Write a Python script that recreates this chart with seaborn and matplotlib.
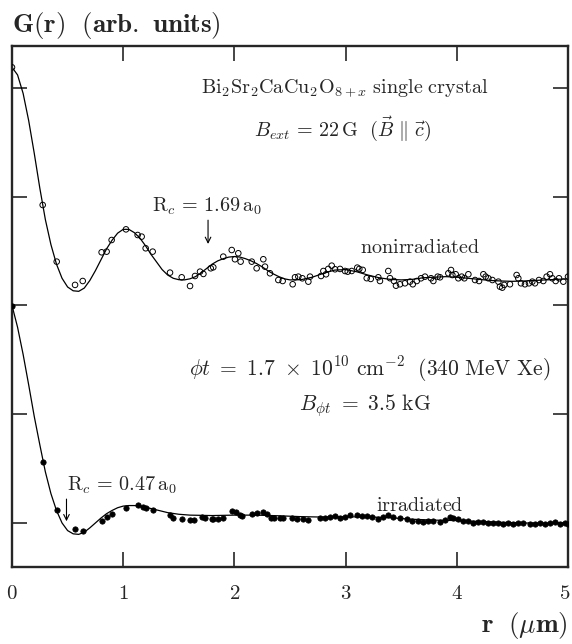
import numpy as np
import pandas as pd
import matplotlib
matplotlib.use("Agg")
import matplotlib.pyplot as plt
import seaborn as sns
from matplotlib.transforms import ScaledTranslation

sns.set_style("ticks")
plt.rcParams["mathtext.fontset"] = "cm"
plt.rcParams["font.family"] = ["DejaVu Serif"]

# nonirradiated : measured points (open circles)
r_non = [0.0, 0.276, 0.402, 0.567, 0.636, 0.806, 0.851, 0.896, 1.025, 1.130, 1.166, 1.202, 1.265,
         1.421, 1.526, 1.601, 1.646, 1.691, 1.721, 1.787, 1.810, 1.900, 1.976, 2.005, 2.035, 2.056,
         2.156, 2.200, 2.260, 2.275, 2.320, 2.395, 2.434, 2.524, 2.545, 2.575, 2.611, 2.665, 2.680,
         2.779, 2.800, 2.824, 2.844, 2.875, 2.905, 2.950, 2.995, 3.019, 3.055, 3.105, 3.123, 3.154,
         3.190, 3.226, 3.294, 3.309, 3.384, 3.399, 3.435, 3.453, 3.489, 3.534, 3.579, 3.604, 3.640,
         3.678, 3.714, 3.768, 3.789, 3.828, 3.849, 3.924, 3.948, 3.960, 3.990, 4.014, 4.044, 4.068,
         4.104, 4.164, 4.200, 4.239, 4.260, 4.284, 4.320, 4.374, 4.388, 4.409, 4.427, 4.478, 4.538,
         4.553, 4.577, 4.613, 4.649, 4.679, 4.703, 4.739, 4.778, 4.808, 4.838, 4.859, 4.889, 4.919,
         4.958, 5.0]
g_non = [4.19, 2.924, 2.403, 2.189, 2.225, 2.489, 2.495, 2.602, 2.700, 2.648, 2.633, 2.526, 2.495,
         2.302, 2.259, 2.179, 2.271, 2.311, 2.290, 2.342, 2.351, 2.449, 2.510, 2.425, 2.480, 2.403,
         2.403, 2.342, 2.425, 2.357, 2.296, 2.234, 2.225, 2.195, 2.259, 2.265, 2.250, 2.219, 2.265,
         2.271, 2.317, 2.287, 2.336, 2.366, 2.333, 2.336, 2.317, 2.311, 2.317, 2.348, 2.336, 2.327,
         2.251, 2.244, 2.259, 2.225, 2.317, 2.251, 2.225, 2.182, 2.195, 2.204, 2.219, 2.195, 2.225,
         2.250, 2.265, 2.250, 2.225, 2.265, 2.259, 2.296, 2.326, 2.280, 2.287, 2.250, 2.265, 2.250,
         2.287, 2.234, 2.225, 2.287, 2.265, 2.250, 2.234, 2.219, 2.173, 2.164, 2.189, 2.195, 2.280,
         2.250, 2.204, 2.195, 2.204, 2.219, 2.204, 2.234, 2.225, 2.265, 2.287, 2.250, 2.225, 2.250,
         2.219, 2.265]

# nonirradiated : fit curve
r_fit_non = [0.0, 0.05, 0.1, 0.15, 0.2, 0.25, 0.3, 0.35, 0.4, 0.45, 0.5, 0.55, 0.6, 0.65, 0.7, 0.75,
             0.8, 0.85, 0.9, 0.95, 1.0, 1.05, 1.1, 1.15, 1.2, 1.25, 1.3, 1.35, 1.4, 1.45, 1.5, 1.55,
             1.6, 1.65, 1.7, 1.75, 1.8, 1.85, 1.9, 1.95, 2.0, 2.05, 2.1, 2.15, 2.2, 2.25, 2.3, 2.35,
             2.4, 2.45, 2.5, 2.6, 2.7, 2.8, 2.9, 3.0, 3.1, 3.2, 3.3, 3.4, 3.5, 3.6, 3.7, 3.8, 3.9,
             4.0, 4.1, 4.2, 4.3, 4.4, 4.5, 4.6, 4.7, 4.8, 4.9, 5.0]
g_fit_non = [4.19, 4.12, 3.95, 3.70, 3.40, 3.08, 2.79, 2.56, 2.38, 2.25, 2.17, 2.135, 2.13, 2.16,
             2.23, 2.32, 2.42, 2.52, 2.60, 2.665, 2.70, 2.70, 2.67, 2.62, 2.55, 2.47, 2.40, 2.33,
             2.28, 2.25, 2.237, 2.235, 2.245, 2.265, 2.30, 2.34, 2.38, 2.41, 2.43, 2.445, 2.45,
             2.445, 2.43, 2.41, 2.385, 2.355, 2.32, 2.29, 2.265, 2.245, 2.235, 2.237, 2.26, 2.295,
             2.325, 2.33, 2.31, 2.28, 2.255, 2.24, 2.235, 2.24, 2.255, 2.26, 2.265, 2.26, 2.25,
             2.24, 2.23, 2.225, 2.222, 2.225, 2.23, 2.235, 2.24, 2.245]

# irradiated : measured points (filled dots)
r_irr = [0.0, 0.276, 0.402, 0.567, 0.636, 0.806, 0.851, 0.896, 1.025, 1.136, 1.175, 1.205, 1.271,
         1.421, 1.445, 1.526, 1.601, 1.637, 1.706, 1.736, 1.796, 1.810, 1.855, 1.900, 1.976, 2.011,
         2.050, 2.071, 2.156, 2.200, 2.260, 2.290, 2.329, 2.359, 2.410, 2.440, 2.515, 2.560, 2.620,
         2.665, 2.770, 2.815, 2.860, 2.905, 2.950, 2.995, 3.040, 3.100, 3.145, 3.190, 3.235, 3.294,
         3.339, 3.384, 3.429, 3.489, 3.550, 3.594, 3.654, 3.699, 3.744, 3.789, 3.849, 3.894, 3.939,
         3.969, 4.014, 4.059, 4.104, 4.149, 4.194, 4.239, 4.284, 4.329, 4.374, 4.418, 4.463, 4.508,
         4.553, 4.598, 4.658, 4.703, 4.748, 4.793, 4.838, 4.883, 4.928, 4.973, 5.0]
g_irr = [1.995, 0.558, 0.115, -0.054, -0.077, 0.020, 0.058, 0.085, 0.142, 0.162, 0.150, 0.138,
         0.120, 0.070, 0.046, 0.037, 0.028, 0.025, 0.058, 0.043, 0.037, 0.040, 0.037, 0.049, 0.107,
         0.098, 0.074, 0.067, 0.078, 0.089, 0.101, 0.080, 0.050, 0.049, 0.047, 0.050, 0.045, 0.040,
         0.037, 0.028, 0.043, 0.049, 0.058, 0.067, 0.049, 0.058, 0.074, 0.074, 0.067, 0.067, 0.058,
         0.037, 0.058, 0.074, 0.052, 0.043, 0.034, 0.021, 0.021, 0.012, 0.021, 0.021, 0.012, 0.028,
         0.058, 0.043, 0.034, 0.021, 0.021, 0.003, 0.012, 0.012, -0.003, 0.003, 0.003, -0.009,
         -0.003, -0.009, -0.003, 0.003, -0.009, -0.009, -0.003, -0.009, 0.003, 0.012, -0.009,
         0.003, -0.009]

# irradiated : fit curve
r_fit_irr = [0.0, 0.05, 0.1, 0.15, 0.2, 0.25, 0.3, 0.35, 0.4, 0.45, 0.5, 0.55, 0.6, 0.65, 0.7,
             0.75, 0.8, 0.85, 0.9, 0.95, 1.0, 1.05, 1.1, 1.15, 1.2, 1.3, 1.4, 1.5, 1.6, 1.8, 2.0,
             2.2, 2.4, 2.6, 2.8, 3.0, 3.2, 3.4, 3.6, 3.8, 4.0, 4.2, 4.4, 4.6, 4.8, 5.0]
g_fit_irr = [2.0, 1.80, 1.55, 1.27, 0.98, 0.72, 0.47, 0.27, 0.115, 0.0, -0.07, -0.10, -0.105,
             -0.085, -0.045, 0.0, 0.045, 0.085, 0.115, 0.14, 0.155, 0.16, 0.16, 0.155, 0.145, 0.12,
             0.095, 0.08, 0.072, 0.068, 0.072, 0.072, 0.066, 0.058, 0.054, 0.056, 0.056, 0.048,
             0.034, 0.026, 0.022, 0.014, 0.006, 0.0, -0.003, -0.006]

x_ticks = [0, 1, 2, 3, 4, 5]
x_tick_labels = [r"$\mathbf{0}$", r"$\mathbf{1}$", r"$\mathbf{2}$", r"$\mathbf{3}$",
                 r"$\mathbf{4}$", r"$\mathbf{5}$"]
y_ticks = [0, 1, 2, 3, 4]

fig = plt.figure(figsize=(5.72, 6.44), dpi=100)
ax = fig.add_axes([12 / 572, 77 / 644, 556 / 572, 521 / 644])

sns.lineplot(x=r_fit_non, y=g_fit_non, color="black", linewidth=0.9, errorbar=None, ax=ax)
sns.lineplot(x=r_fit_irr, y=g_fit_irr, color="black", linewidth=0.9, errorbar=None, ax=ax)
sns.scatterplot(x=r_non, y=g_non, s=16, marker="o", facecolors="none", edgecolor="black",
                linewidth=0.7, ax=ax, zorder=3)
sns.scatterplot(x=r_irr, y=g_irr, s=15, marker="o", color="black", edgecolor="black",
                linewidth=0.5, ax=ax, zorder=3)

ax.set_xlim(0, 5)
ax.set_ylim(-0.405, 4.386)
ax.set_xticks(x_ticks)
ax.set_xticklabels(x_tick_labels, fontsize=15)
ax.set_yticks(y_ticks)
ax.set_yticklabels([])
ax.tick_params(direction="in", length=11, width=1.2, top=True, right=True, pad=12)
for sp in ax.spines.values():
    sp.set_linewidth(1.7)
    sp.set_visible(True)
# last label sits on the right edge, nudge it in a little
last = ax.get_xticklabels()[-1]
last.set_transform(last.get_transform() + ScaledTranslation(-3 / 100, 0, fig.dpi_scale_trans))

ax.set_title(r"$\mathbf{G(r)\ \ (arb.\ units)}$", loc="left", fontsize=19.5, pad=10, x=0.0)
ax.set_xlabel(r"$\mathbf{r}\ \ (\mu\mathbf{m})$", loc="right", fontsize=19.5, labelpad=5)

kw = dict(ha="center", va="center", fontsize=14.5)
ax.text(2.995, 4.0, r"$\mathrm{Bi_2Sr_2CaCu_2O}_{8+x}\ \mathrm{single\ crystal}$", **kw)
ax.text(2.97, 3.63, r"$B_{ext}\, =\, 22\,\mathrm{G}\ \ (\vec{B}\ \Vert\ \vec{c})$", **kw)
ax.text(1.75, 2.91, r"$\mathrm{R}_c\, =\, 1.69\,\mathrm{a}_0$", **kw)
ax.annotate("", xy=(1.763, 2.54), xytext=(1.763, 2.81),
            arrowprops=dict(arrowstyle="->", color="black", lw=0.8))
ax.text(3.67, 2.53, r"$\mathrm{nonirradiated}$", **kw)
ax.text(3.22, 1.41, r"$\phi t\ =\ 1.7\ \times\ 10^{10}\ \mathrm{cm}^{-2}\ \ (340\ \mathrm{MeV\ Xe})$",
        ha="center", va="center", fontsize=15.5)
ax.text(3.17, 1.08, r"$B_{\phi t}\ =\ 3.5\ \mathrm{kG}$", ha="center", va="center", fontsize=15.5)
ax.text(0.99, 0.35, r"$\mathrm{R}_c\, =\, 0.47\,\mathrm{a}_0$", **kw)
ax.annotate("", xy=(0.49, -0.01), xytext=(0.49, 0.245),
            arrowprops=dict(arrowstyle="->", color="black", lw=0.8))
ax.text(3.67, 0.165, r"$\mathrm{irradiated}$", **kw)

fig.savefig("out.png", dpi=100)
